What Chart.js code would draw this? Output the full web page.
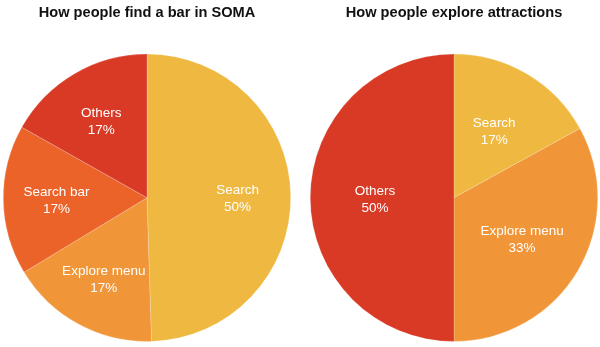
<!DOCTYPE html>
<html>
<head>
<meta charset="utf-8">
<script src="https://cdn.jsdelivr.net/npm/chart.js@4"></script>
<style>
  html, body { margin: 0; padding: 0; background: #fff; }
  #wrap { width: 600px; height: 347px; display: flex; }
  canvas { display: block; }
</style>
</head>
<body>
<div id="wrap">
  <canvas id="barChart" width="300" height="347"></canvas>
  <canvas id="attrChart" width="300" height="347"></canvas>
</div>
<script>
'use strict';

// left pie: finding a bar
let barLabels = ['Search', 'Explore menu', 'Search bar', 'Others'];
let barValues = [50, 17, 17, 17];
let barColors = ['#EFB941', '#F09638', '#EB6329', '#D93A25'];

// right pie: exploring attractions
let attrLabels = ['Search', 'Explore menu', 'Others'];
let attrValues = [17, 33, 50];
let attrColors = ['#EFB941', '#F09638', '#D93A25'];

// writes "name / value%" inside each slice
let sliceLabels = {
  id: 'sliceLabels',
  afterDatasetsDraw(chart, args, opts) {
    let ctx = chart.ctx;
    let meta = chart.getDatasetMeta(0);
    let labels = chart.data.labels;
    let values = chart.data.datasets[0].data;
    ctx.save();
    ctx.fillStyle = '#fff';
    ctx.font = '13.5px "Liberation Sans", Arial, sans-serif';
    ctx.textAlign = 'center';
    ctx.textBaseline = 'middle';
    meta.data.forEach(function (arc, i) {
      let p = arc.getProps(['x', 'y', 'startAngle', 'endAngle', 'outerRadius'], true);
      let mid = (p.startAngle + p.endAngle) / 2;
      let d = p.outerRadius * opts.dist;
      let cx = p.x + Math.cos(mid) * d;
      let cy = p.y + Math.sin(mid) * d;
      ctx.fillText(labels[i], cx, cy - 6.5);
      ctx.fillText(values[i] + '%', cx, cy + 10.5);
    });
    ctx.restore();
  }
};

function makePie(id, title, labels, values, colors, pad, dist) {
  return new Chart(document.getElementById(id), {
    type: 'pie',
    data: {
      labels: labels,
      datasets: [{
        data: values,
        backgroundColor: colors,
        borderColor: 'rgba(255,255,255,0.2)',
        borderWidth: 1
      }]
    },
    options: {
      responsive: false,
      animation: false,
      layout: { padding: pad },
      plugins: {
        legend: { display: false },
        tooltip: { enabled: false },
        title: {
          display: true,
          text: title,
          color: '#111',
          font: { family: '"Liberation Sans", Arial, sans-serif', size: 14.6, weight: 'bold' },
          padding: { top: 4, bottom: 32 }
        },
        sliceLabels: { dist: dist }
      }
    },
    plugins: [sliceLabels]
  });
}

makePie('barChart', 'How people find a bar in SOMA', barLabels, barValues, barColors,
  { left: 0, right: 6, top: 0, bottom: 5 }, 0.63);
makePie('attrChart', 'How people explore attractions', attrLabels, attrValues, attrColors,
  { left: 8, right: 0, top: 0, bottom: 5 }, 0.55);
</script>
</body>
</html>
